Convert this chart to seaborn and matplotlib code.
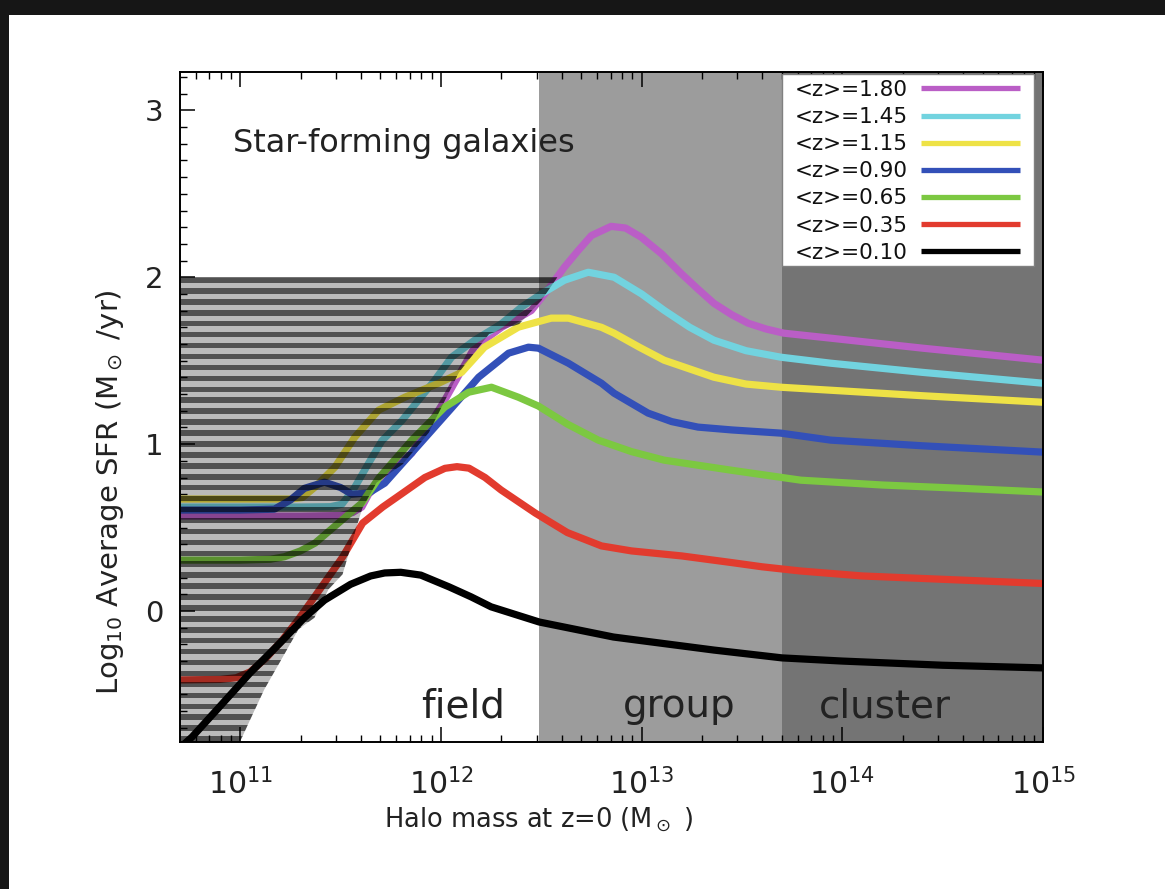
import numpy as np
import pandas as pd
import matplotlib
matplotlib.use("Agg")
import matplotlib.pyplot as plt
from matplotlib.patches import Polygon, Rectangle
from matplotlib.lines import Line2D
from matplotlib.ticker import FixedLocator, LogLocator, MultipleLocator, NullFormatter
import seaborn as sns

# ---------------------------------------------------------------------------
# Average SFR of star-forming galaxies vs. z=0 halo mass, one curve per <z>
# (x: log10 halo mass [Msun], y: log10 average SFR [Msun/yr])
# ---------------------------------------------------------------------------
logm_z180 = [10.70, 11.00, 11.30, 11.50, 11.56, 11.606, 11.64, 11.75, 11.855, 12.019, 12.168,
             12.302, 12.45, 12.53, 12.615, 12.684, 12.75, 12.848, 12.92, 12.998, 13.10, 13.196,
             13.28, 13.36, 13.45, 13.53, 13.62, 13.708, 13.942, 14.40, 15.00]
sfr_z180 = [0.569, 0.569, 0.569, 0.572, 0.59, 0.623, 0.70, 0.83, 0.946, 1.263, 1.581,
            1.70, 1.80, 1.92, 2.06, 2.16, 2.25, 2.305, 2.295, 2.24, 2.14, 2.024,
            1.93, 1.844, 1.775, 1.725, 1.69, 1.665, 1.635, 1.575, 1.503]

logm_z145 = [10.70, 11.00, 11.30, 11.45, 11.507, 11.57, 11.64, 11.706, 11.805, 11.969, 12.053,
             12.168, 12.30, 12.40, 12.50, 12.615, 12.734, 12.863, 13.00, 13.112, 13.24, 13.36,
             13.52, 13.693, 13.942, 14.40, 15.00]
sfr_z145 = [0.623, 0.623, 0.623, 0.625, 0.64, 0.74, 0.886, 1.02, 1.14, 1.383, 1.521,
            1.623, 1.72, 1.82, 1.90, 1.982, 2.03, 2.00, 1.90, 1.802, 1.70, 1.623,
            1.56, 1.521, 1.485, 1.43, 1.365]

logm_z115 = [10.70, 11.00, 11.25, 11.31, 11.373, 11.472, 11.571, 11.69, 11.82, 11.989, 12.103,
             12.217, 12.386, 12.55, 12.635, 12.80, 12.863, 12.99, 13.112, 13.36, 13.52, 13.693,
             13.942, 14.40, 15.00]
sfr_z115 = [0.671, 0.671, 0.671, 0.68, 0.743, 0.862, 1.042, 1.204, 1.281, 1.365, 1.43,
            1.581, 1.701, 1.755, 1.755, 1.70, 1.665, 1.58, 1.503, 1.401, 1.36, 1.341,
            1.323, 1.29, 1.251]

logm_z090 = [10.70, 11.00, 11.17, 11.25, 11.32, 11.42, 11.50, 11.556, 11.64, 11.72, 11.889,
             12.053, 12.188, 12.337, 12.436, 12.486, 12.635, 12.80, 12.863, 13.032, 13.15,
             13.281, 13.45, 13.693, 13.942, 14.40, 15.00]
sfr_z090 = [0.605, 0.605, 0.61, 0.665, 0.735, 0.772, 0.74, 0.70, 0.707, 0.766, 0.994,
            1.216, 1.401, 1.545, 1.581, 1.575, 1.485, 1.365, 1.305, 1.186, 1.135,
            1.102, 1.085, 1.066, 1.024, 0.99, 0.952]

logm_z065 = [10.70, 11.00, 11.15, 11.22, 11.30, 11.373, 11.507, 11.606, 11.69, 11.855, 12.019,
             12.138, 12.252, 12.386, 12.486, 12.63, 12.784, 12.95, 13.112, 13.445, 13.793,
             14.20, 14.60, 15.00]
sfr_z065 = [0.305, 0.305, 0.31, 0.325, 0.36, 0.407, 0.545, 0.647, 0.796, 1.024, 1.222,
            1.311, 1.341, 1.281, 1.228, 1.12, 1.024, 0.955, 0.904, 0.844, 0.784,
            0.755, 0.735, 0.713]

logm_z035 = [10.70, 10.90, 10.98, 11.05, 11.13, 11.21, 11.29, 11.37, 11.51, 11.61, 11.71,
             11.81, 11.92, 12.02, 12.08, 12.14, 12.22, 12.30, 12.47, 12.63, 12.80, 12.95,
             13.20, 13.45, 13.60, 13.79, 14.10, 14.50, 15.00]
sfr_z035 = [-0.413, -0.41, -0.40, -0.365, -0.28, -0.174, -0.05, 0.084, 0.323, 0.527, 0.623,
            0.707, 0.80, 0.855, 0.865, 0.856, 0.80, 0.725, 0.587, 0.47, 0.39, 0.36,
            0.33, 0.29, 0.265, 0.24, 0.21, 0.19, 0.165]

logm_z010 = [10.70, 10.76, 10.90, 11.05, 11.20, 11.32, 11.42, 11.55, 11.65, 11.72, 11.80,
             11.90, 12.04, 12.15, 12.25, 12.49, 12.86, 13.36, 13.70, 14.00, 14.50, 15.00]
sfr_z010 = [-0.82, -0.755, -0.57, -0.37, -0.19, -0.04, 0.065, 0.16, 0.21, 0.228, 0.232,
            0.215, 0.145, 0.085, 0.025, -0.066, -0.156, -0.234, -0.281, -0.30, -0.325, -0.341]

z_labels = ["<z>=1.80", "<z>=1.45", "<z>=1.15", "<z>=0.90", "<z>=0.65", "<z>=0.35", "<z>=0.10"]
z_colors = ["#BA5EC6", "#72D3DF", "#EEE246", "#3350B8", "#7CC841", "#E23B2E", "#000000"]
series_logm = [logm_z180, logm_z145, logm_z115, logm_z090, logm_z065, logm_z035, logm_z010]
series_sfr = [sfr_z180, sfr_z145, sfr_z115, sfr_z090, sfr_z065, sfr_z035, sfr_z010]

# environment bands in log10 halo mass
group_logm = (12.49, 13.70)
cluster_logm = (13.70, 15.00)
region_names = ["field", "group", "cluster"]

# incompleteness limit: region left of / below this curve (and below SFR=2) is hatched
limit_logm = [12.58, 12.50, 12.39, 12.24, 12.09, 11.94, 11.81, 11.68, 11.61, 11.59, 11.51,
              11.44, 11.37, 11.29, 11.21, 11.12, 11.05, 11.01, 10.99]
limit_sfr = [2.00, 1.86, 1.72, 1.66, 1.43, 1.07, 0.88, 0.77, 0.62, 0.545, 0.22,
             0.13, -0.04, -0.11, -0.28, -0.47, -0.65, -0.755, -0.80]
limit_top = 2.0

x_ticks_log = [11, 12, 13, 14, 15]
x_tick_labels = [r"$10^{11}$", r"$10^{12}$", r"$10^{13}$", r"$10^{14}$", r"$10^{15}$"]
y_ticks = [0, 1, 2, 3]
y_tick_labels = ["0", "1", "2", "3"]

xlim_log = (10.70, 15.0)
ylim = (-0.785, 3.23)

# ---------------------------------------------------------------------------
sns.set_theme(style="white")
plt.rcParams["font.family"] = ["DejaVu Sans"]
plt.rcParams["mathtext.fontset"] = "dejavusans"

frames = []
for lab, lm, sf in zip(z_labels, series_logm, series_sfr):
    frames.append(pd.DataFrame({"mass": 10.0 ** np.asarray(lm), "sfr": sf, "z": lab}))
df = pd.concat(frames, ignore_index=True)

fig = plt.figure(figsize=(11.65, 8.89), dpi=100, facecolor="white")
ax = fig.add_axes([180 / 1165, 1 - 742 / 889, 863 / 1165, 670 / 889])
ax.set_facecolor("white")

# dark surround along the top and left edges of the frame
fig.patches.append(Rectangle((0, 1 - 15 / 889), 1, 15 / 889, transform=fig.transFigure,
                             facecolor="#161616", edgecolor="none", zorder=0))
fig.patches.append(Rectangle((0, 0), 9 / 1165, 1, transform=fig.transFigure,
                             facecolor="#161616", edgecolor="none", zorder=0))

ax.set_xscale("log")
ax.set_xlim(10 ** xlim_log[0], 10 ** xlim_log[1])
ax.set_ylim(*ylim)

# environment shading
ax.axvspan(10 ** group_logm[0], 10 ** group_logm[1], color="#9C9C9C", lw=0, zorder=0.5)
ax.axvspan(10 ** cluster_logm[0], 10 ** cluster_logm[1], color="#747474", lw=0, zorder=0.5)

palette = dict(zip(z_labels, z_colors))
sns.lineplot(data=df, x="mass", y="sfr", hue="z", hue_order=z_labels, palette=palette,
             estimator=None, sort=False, linewidth=5.2, legend=False, ax=ax, zorder=2)
for line in ax.lines:
    line.set_solid_capstyle("butt")
    line.set_solid_joinstyle("round")

# striped overlay marking the incomplete region
verts = [(10 ** xlim_log[0] * 0.5, ylim[0] - 0.5), (10 ** xlim_log[0] * 0.5, limit_top)]
verts += [(10 ** m, s) for m, s in zip(limit_logm, limit_sfr)]
verts += [(10 ** limit_logm[-1], ylim[0] - 0.5)]
region = Polygon(verts, closed=True, transform=ax.transData, facecolor="black",
                 alpha=0.27, lw=0, zorder=2.5)
ax.add_patch(region)
period = 0.0655
for y0 in np.arange(limit_top - 0.033, ylim[0] - 0.1, -period):
    stripe = ax.axhspan(y0, y0 + 0.033, color="black", alpha=0.56, lw=0, zorder=2.6)
    stripe.set_clip_path(region)

# axes, ticks, labels
ax.xaxis.set_major_locator(FixedLocator([10.0 ** v for v in x_ticks_log]))
ax.set_xticklabels(x_tick_labels)
ax.xaxis.set_minor_locator(LogLocator(base=10, subs=np.arange(2, 10), numticks=20))
ax.xaxis.set_minor_formatter(NullFormatter())
ax.yaxis.set_major_locator(FixedLocator(y_ticks))
ax.set_yticklabels(y_tick_labels)
ax.yaxis.set_minor_locator(MultipleLocator(0.1))

ax.tick_params(which="both", direction="in", top=True, bottom=True, left=True, right=False,
               color="black", zorder=6)
ax.tick_params(which="major", length=11, width=1.1)
ax.tick_params(which="minor", length=5, width=1.0)
ax.tick_params(axis="x", which="major", labelsize=21.5, pad=19, labelcolor="#222222")
ax.tick_params(axis="y", which="major", labelsize=21, pad=12, labelcolor="#222222")

for sp in ax.spines.values():
    sp.set_color("black")
    sp.set_linewidth(1.4)
    sp.set_zorder(6)

ax.set_xlabel(r"Halo mass at z=0 (M$_\odot$ )", fontsize=18.5, color="#222222")
ax.xaxis.set_label_coords(0.415, -0.095)
ax.set_ylabel(r"Log$_{10}$ Average SFR (M$_\odot$ /yr)", fontsize=21, color="#222222")
ax.yaxis.set_label_coords(-0.062, 0.373)

ax.text(0.0614, 0.8806, "Star-forming galaxies", transform=ax.transAxes, fontsize=23,
        ha="left", va="baseline", color="#222222", zorder=7)
for name, xc in zip(region_names, [0.328, 0.579, 0.817]):
    ax.text(xc, 0.037, name, transform=ax.transAxes, fontsize=28, ha="center",
            va="baseline", color="#222222", zorder=7)

# legend: white panel in the upper-right corner with the entries on top
ax.add_patch(Rectangle(((782 - 180) / 863, (742 - 266) / 670), 252 / 863, 192 / 670,
                       transform=ax.transAxes, facecolor="white", edgecolor="#808080",
                       lw=1.0, zorder=7))
handles = [Line2D([0], [0], color=c, lw=3.8, solid_capstyle="butt") for c in z_colors]
leg = ax.legend(handles, z_labels, loc="upper right",
                bbox_to_anchor=((1020 - 180) / 863, (742 - 80) / 670),
                borderaxespad=0, frameon=False, fontsize=15.5, markerfirst=False,
                handlelength=4.6, handletextpad=0.6, labelspacing=0.33, borderpad=0)
leg.set_zorder(8)
for t in leg.get_texts():
    t.set_color("#111111")

fig.savefig("out.png", dpi=100, facecolor="white")
